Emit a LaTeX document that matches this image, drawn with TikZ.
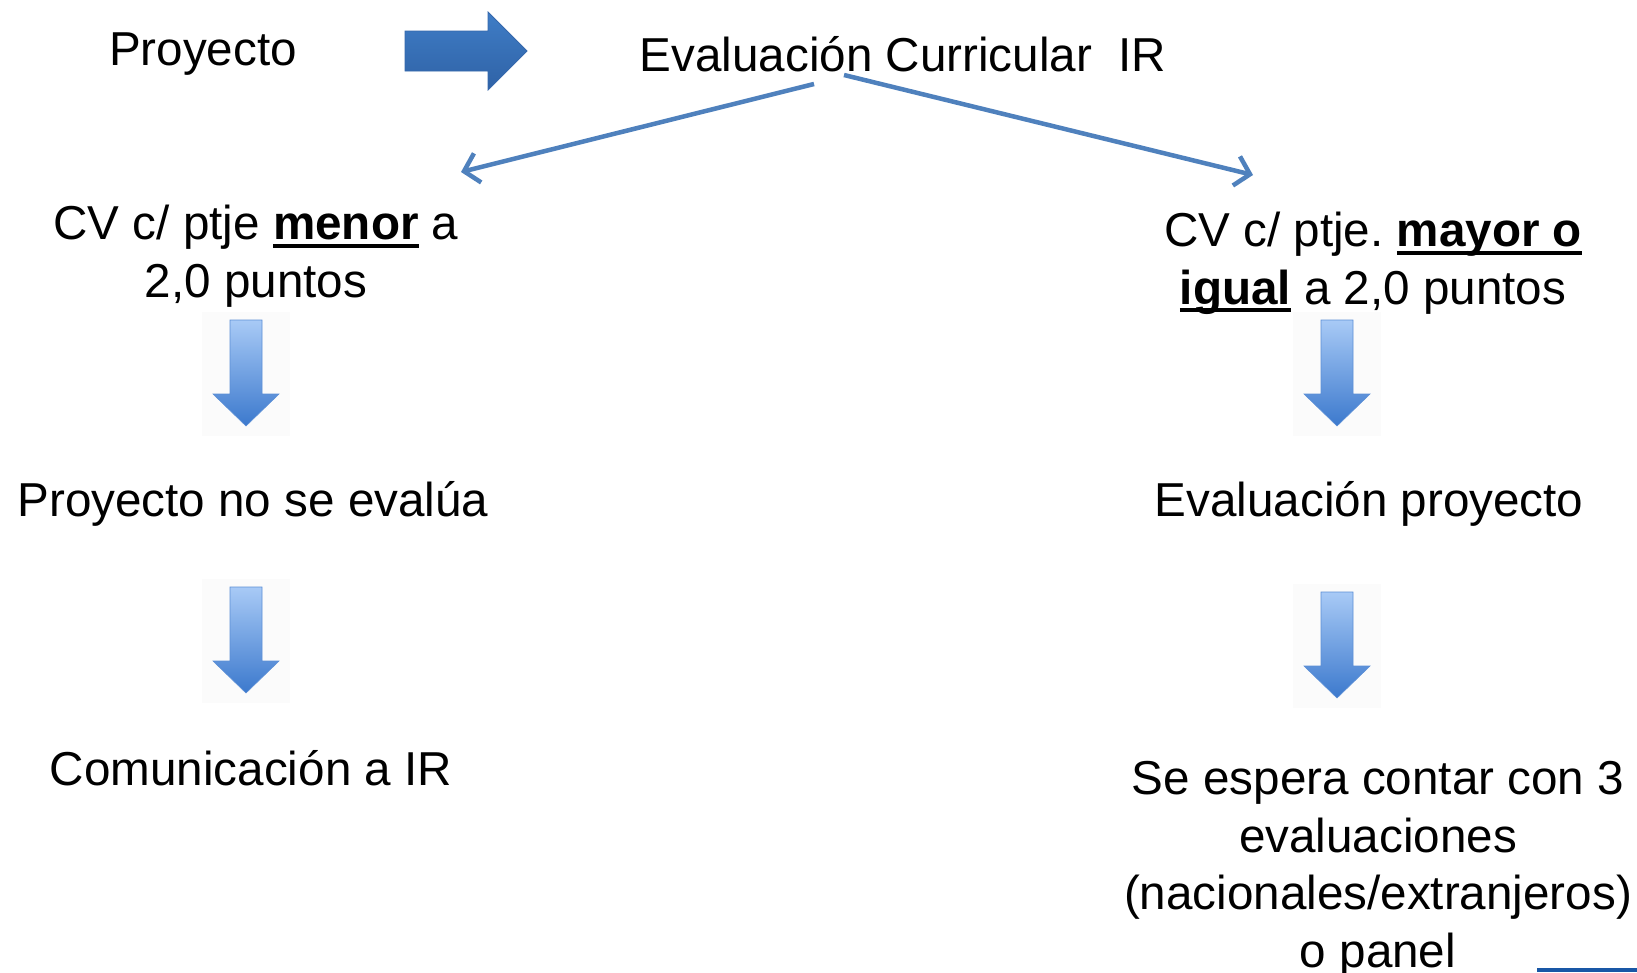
\documentclass[tikz,border=0pt]{standalone}
\usepackage{fontspec}
\setmainfont{Liberation Sans}
\usetikzlibrary{arrows.meta}
\frenchspacing
\definecolor{linkblue}{HTML}{4F81BD}
\definecolor{bigtop}{HTML}{3F7DC6}
\definecolor{bigbot}{HTML}{2F62A6}
\definecolor{bigedge}{HTML}{3568AC}
\definecolor{dntop}{HTML}{A8CAF6}
\definecolor{dnbot}{HTML}{3C79CD}
\definecolor{dnedge}{HTML}{5C8FD6}
\definecolor{barblue}{HTML}{1957A6}
\newcommand\ulb[1]{\setbox0\hbox{\bfseries #1}\rlap{\rule[-8pt]{\wd0}{4pt}}\box0\relax}
\tikzset{
  dnarrow/.pic={
    \fill[black!1.5] (-44,-8) rectangle (44,116);
    \shade[top color=dntop, bottom color=dnbot, draw=dnedge, line width=0.6pt]
      (-16,0) -- (16,0) -- (16,74) -- (33,74) -- (0,106) -- (-33,74) -- (-16,74) -- cycle;
  }
}
\begin{document}
\begin{tikzpicture}[x=1pt,y=-1pt,
  every node/.style={inner sep=0pt, outer sep=0pt, font=\fontsize{47.6}{57.5}\selectfont},
  lbl/.style={anchor=base, align=center},
  conn/.style={draw=linkblue, line width=4.5pt, -{Straight Barb[length=14pt,width=30pt]}}]
\useasboundingbox (0,0) rectangle (1637,972);
\fill[white] (0,0) rectangle (1637,972);

% texts (base anchor = baseline of last line)
\node[lbl] (proj)   at (203,65)   {Proyecto};
\node[lbl] (eval)   at (903,71)   {Evaluación Curricular~ IR};
\node[lbl] (cvL)    at (256,297)  {CV c/ ptje \ulb{menor} a\\2,0 puntos};
\node[lbl] (cvR)    at (1373,304) {CV c/ ptje. \ulb{mayor o}\\\ulb{igual} a 2,0 puntos};
\node[lbl] (noeval) at (253,516)  {Proyecto no se evalúa};
\node[lbl] (evproj) at (1369,516) {Evaluación proyecto};
\node[lbl] (comm)   at (251,785)  {Comunicación a IR};
\node[lbl] (espera) at (1378,967) {Se espera contar con 3\\evaluaciones\\(nacionales/extranjeros)\\o panel};

% big right block arrow
\shade[top color=bigtop, bottom color=bigbot, draw=bigedge, line width=0.8pt]
  (405,31) -- (488,31) -- (488,12) -- (527,51) -- (488,90) -- (488,71) -- (405,71) -- cycle;

% thin connectors
\coordinate (aL0) at (814,84);
\coordinate (aL1) at (461,172);
\coordinate (aR0) at (844,75);
\coordinate (aR1) at (1253,175);
\draw[conn] (aL0) -- (aL1);
\draw[conn] (aR0) -- (aR1);

% down arrows
\pic (dL1) at (246,320) {dnarrow};
\pic (dL2) at (246,587) {dnarrow};
\pic (dR1) at (1337,320) {dnarrow};
\pic (dR2) at (1337,592) {dnarrow};

% bottom-right bar
\fill[barblue] (1537,968) rectangle (1637,972);
\end{tikzpicture}
\end{document}
